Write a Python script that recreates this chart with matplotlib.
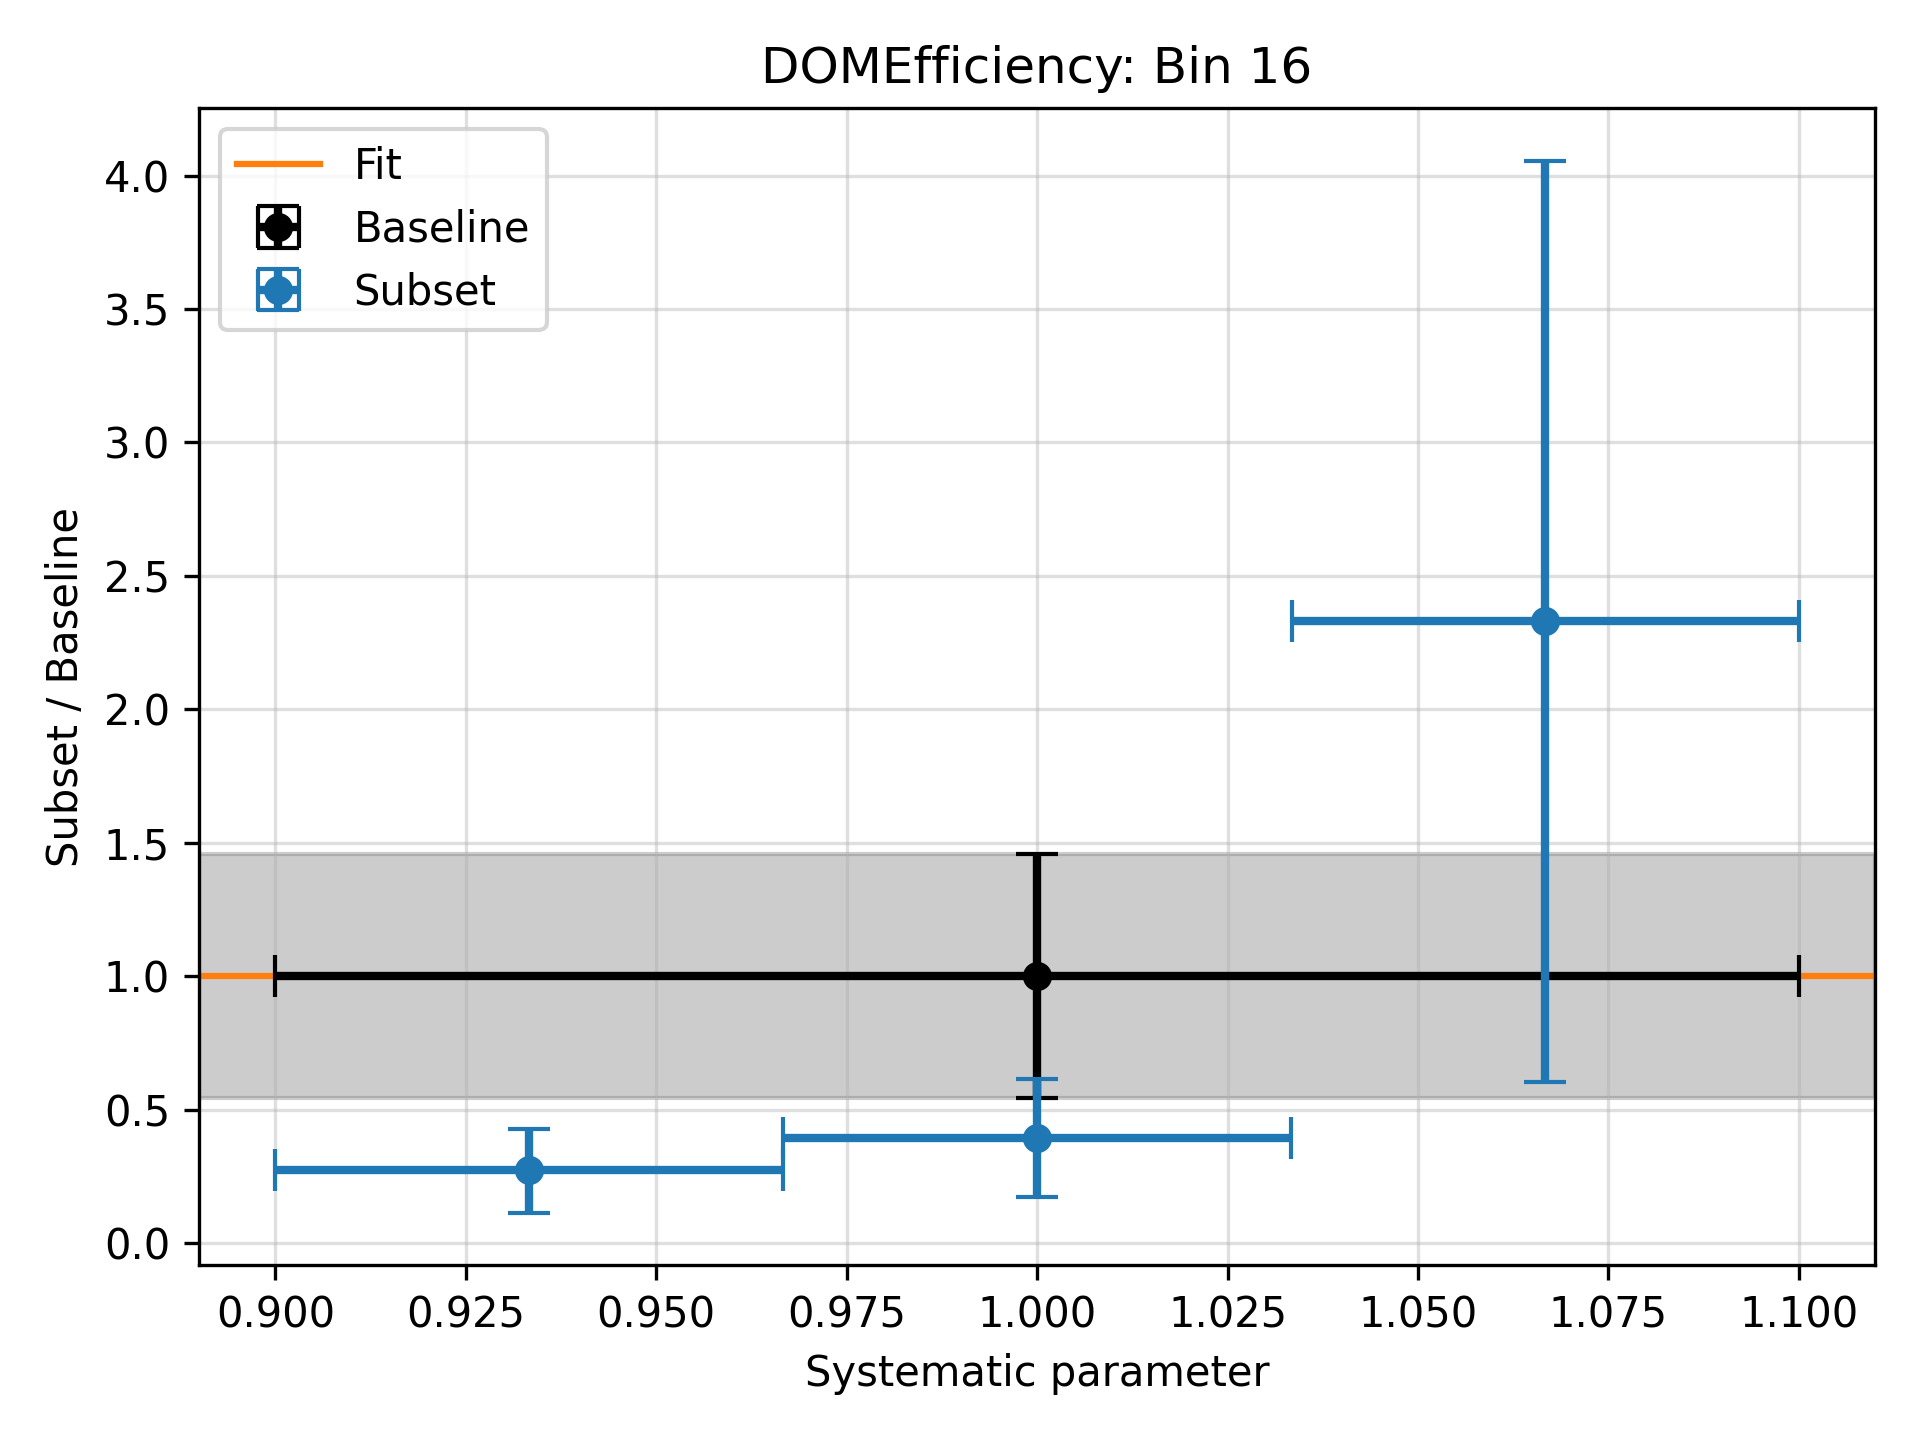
import matplotlib
matplotlib.use("Agg")
import matplotlib.pyplot as plt
import numpy as np

# values
fit_x = [0.89, 1.11]
fit_y = [1.0, 1.0]

base_x = [1.0]
base_y = [1.0]
base_xerr = [0.1]
base_yerr_lo = [0.458]
base_yerr_hi = [0.456]
band_lo, band_hi = 0.543, 1.457

sub_x = [0.9333, 1.0, 1.0667]
sub_y = [0.272, 0.395, 2.331]
sub_xerr = [0.0333, 0.0333, 0.0333]
sub_yerr_lo = [0.158, 0.222, 1.729]
sub_yerr_hi = [0.157, 0.218, 1.725]


def main():
    fig, ax = plt.subplots(figsize=(6.4, 4.8), dpi=300)

    ax.axhspan(band_lo, band_hi, color="gray", alpha=0.4)
    ax.plot(fit_x, fit_y, color="tab:orange", label="Fit")
    ax.errorbar(base_x, base_y, xerr=base_xerr,
                yerr=[base_yerr_lo, base_yerr_hi],
                fmt="o", color="black", elinewidth=2, capsize=5,
                label="Baseline")
    ax.errorbar(sub_x, sub_y, xerr=sub_xerr,
                yerr=[sub_yerr_lo, sub_yerr_hi],
                fmt="o", color="tab:blue", elinewidth=2, capsize=5,
                label="Subset")

    ax.set_xlim(0.89, 1.11)
    ax.set_xticks(np.arange(0.9, 1.1001, 0.025))
    ax.set_title("DOMEfficiency: Bin 16")
    ax.set_xlabel("Systematic parameter")
    ax.set_ylabel("Subset / Baseline")
    ax.grid(True, alpha=0.4)
    ax.legend(loc="upper left")
    fig.tight_layout()
    fig.savefig("out.png")


if __name__ == '__main__':
    main()
